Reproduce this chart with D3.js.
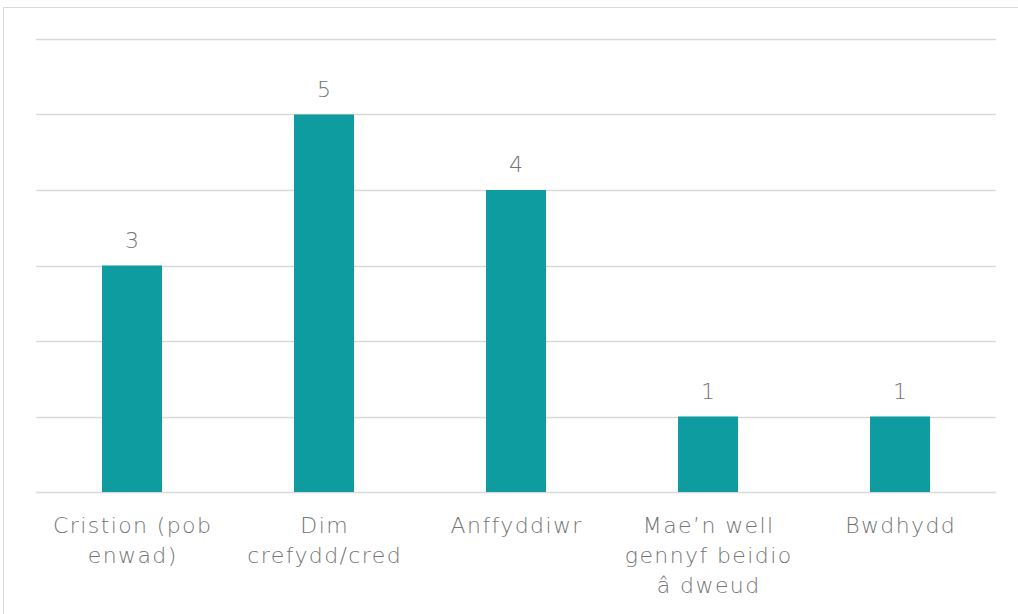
<!DOCTYPE html>
<html>
<head>
<meta charset="utf-8">
<script src="https://cdn.jsdelivr.net/npm/d3@7"></script>
<style>
  body { margin: 0; background: #fff; }
  svg { display: block; }
</style>
</head>
<body>
<svg id="chart"></svg>
<script>
// chart data
const categories = [
  ['Cristion (pob', 'enwad)'],
  ['Dim', 'crefydd/cred'],
  ['Anffyddiwr'],
  ['Mae\u2019n well', 'gennyf beidio', '\u00e2 dweud'],
  ['Bwdhydd']
];
const values = [3, 5, 4, 1, 1];
const gridTicks = [0, 1, 2, 3, 4, 5, 6];

const width = 1018;
const height = 614;
const margin = { top: 39, right: 22, bottom: 122, left: 36 };

const svg = d3.select('#chart')
  .attr('width', width)
  .attr('height', height);

// outer frame
svg.append('rect')
  .attr('x', 3.5)
  .attr('y', 7.5)
  .attr('width', width)
  .attr('height', height)
  .attr('fill', 'none')
  .attr('stroke', '#d9d9d9')
  .attr('stroke-width', 1);

const x = d3.scaleBand()
  .domain(d3.range(categories.length))
  .range([margin.left, width - margin.right])
  .paddingInner(0.6875)
  .paddingOuter(0.34375);

const y = d3.scaleLinear()
  .domain([0, 6])
  .range([height - margin.bottom, margin.top]);

// grid lines
svg.append('g')
  .selectAll('line')
  .data(gridTicks)
  .join('line')
  .attr('x1', margin.left)
  .attr('x2', width - margin.right)
  .attr('y1', d => Math.round(y(d)) + 0.5)
  .attr('y2', d => Math.round(y(d)) + 0.5)
  .attr('stroke', '#d9d9d9')
  .attr('stroke-width', 1.5);

// bars
svg.append('g')
  .selectAll('rect')
  .data(values)
  .join('rect')
  .attr('x', (d, i) => x(i))
  .attr('y', d => y(d))
  .attr('width', x.bandwidth())
  .attr('height', d => y(0) - y(d))
  .attr('fill', '#0e9ca1');

const textColor = '#757575';
const font = '"DejaVu Sans", sans-serif';

// value labels
svg.append('g')
  .selectAll('text')
  .data(values)
  .join('text')
  .attr('x', (d, i) => x(i) + x.bandwidth() / 2)
  .attr('y', d => y(d) - 18)
  .attr('text-anchor', 'middle')
  .attr('font-family', font)
  .attr('font-weight', 200)
  .attr('font-size', '22px')
  .attr('fill', textColor)
  .text(d => d);

// category labels
const cat = svg.append('g')
  .selectAll('text')
  .data(categories)
  .join('text')
  .attr('x', (d, i) => x(i) + x.bandwidth() / 2 + 0.7)
  .attr('y', y(0) + 41)
  .attr('text-anchor', 'middle')
  .attr('font-family', font)
  .attr('font-weight', 200)
  .attr('font-size', '22px')
  .attr('letter-spacing', '1.4px')
  .attr('fill', textColor);

cat.selectAll('tspan')
  .data(d => d)
  .join('tspan')
  .attr('x', function() { return d3.select(this.parentNode).attr('x'); })
  .attr('dy', (d, i) => i === 0 ? 0 : 30)
  .text(d => d);
</script>
</body>
</html>
